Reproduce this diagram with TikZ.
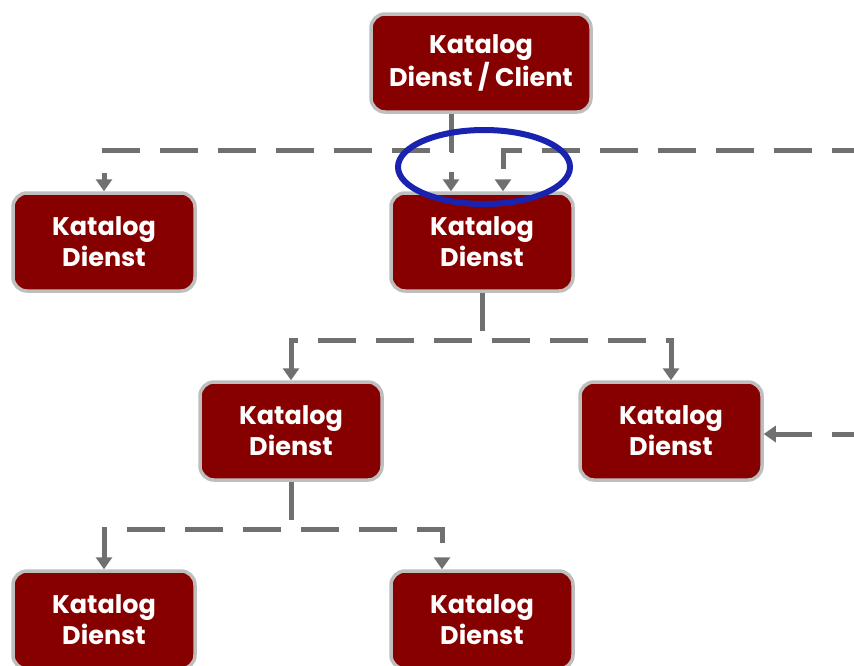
\documentclass[tikz,border=0pt]{standalone}
\usepackage{fontspec}
\setmainfont{Poppins}
\usetikzlibrary{arrows.meta}
\definecolor{dunkelrot}{RGB}{135,0,0}
\definecolor{boxrand}{RGB}{190,190,190}
\definecolor{pfeilgrau}{RGB}{112,112,112}
\definecolor{markblau}{RGB}{25,35,175}
\begin{document}
\begin{tikzpicture}[x=1pt,y=-1pt]
	\tikzset{dienst/.style={draw=boxrand,line width=3.5pt,fill=dunkelrot,rounded corners=14pt,minimum width=182pt,minimum height=98pt,text=white,align=center,font=\bfseries\fontsize{25.5}{31}\selectfont}}
	\tikzset{pfeil/.style={draw=pfeilgrau,line width=5pt,dash pattern=on 38pt off 20pt,-{Triangle[width=16pt,length=12pt]}}}
	\useasboundingbox (0,0) rectangle (854,665);
	\clip (0,0) rectangle (854,665);
	\node [dienst,minimum width=220pt]	(client)	at (481,63)		{Katalog\\Dienst / Client};
	\node [dienst]						(kd1)		at (104,242)	{Katalog\\Dienst};
	\node [dienst]						(kd2)		at (482,242)	{Katalog\\Dienst};
	\node [dienst]						(kd3)		at (291,431)	{Katalog\\Dienst};
	\node [dienst]						(kd4)		at (671,431)	{Katalog\\Dienst};
	\node [dienst]						(kd5)		at (104,620)	{Katalog\\Dienst};
	\node [dienst]						(kd6)		at (482,620)	{Katalog\\Dienst};
	\coordinate							(rechts1)	at (870,150);
	\coordinate							(rechts2)	at (870,434);
	% Verbindungen
	\draw [pfeil] ([xshift=-30pt]client.south) -- ++(0,37) -| (kd1.north);
	\draw [pfeil] ([xshift=-30pt]client.south) -- ([xshift=-31pt]kd2.north);
	\draw [pfeil] (rechts1) -| ([xshift=21pt]kd2.north);
	\draw [pfeil] (kd2.south) -- ++(0,48) -| (kd3.north);
	\draw [pfeil] (kd2.south) -- ++(0,48) -| (kd4.north);
	\draw [pfeil] (rechts2) -- (kd4.east |- rechts2);
	\draw [pfeil] (kd3.south) -- ++(0,48) -| (kd5.north);
	\draw [pfeil] (kd3.south) -- ++(0,48) -| ([xshift=-40pt]kd6.north);
	% Markierung
	\draw [markblau,line width=6pt] (484,167) ellipse [x radius=86,y radius=37];
\end{tikzpicture}
\end{document}
